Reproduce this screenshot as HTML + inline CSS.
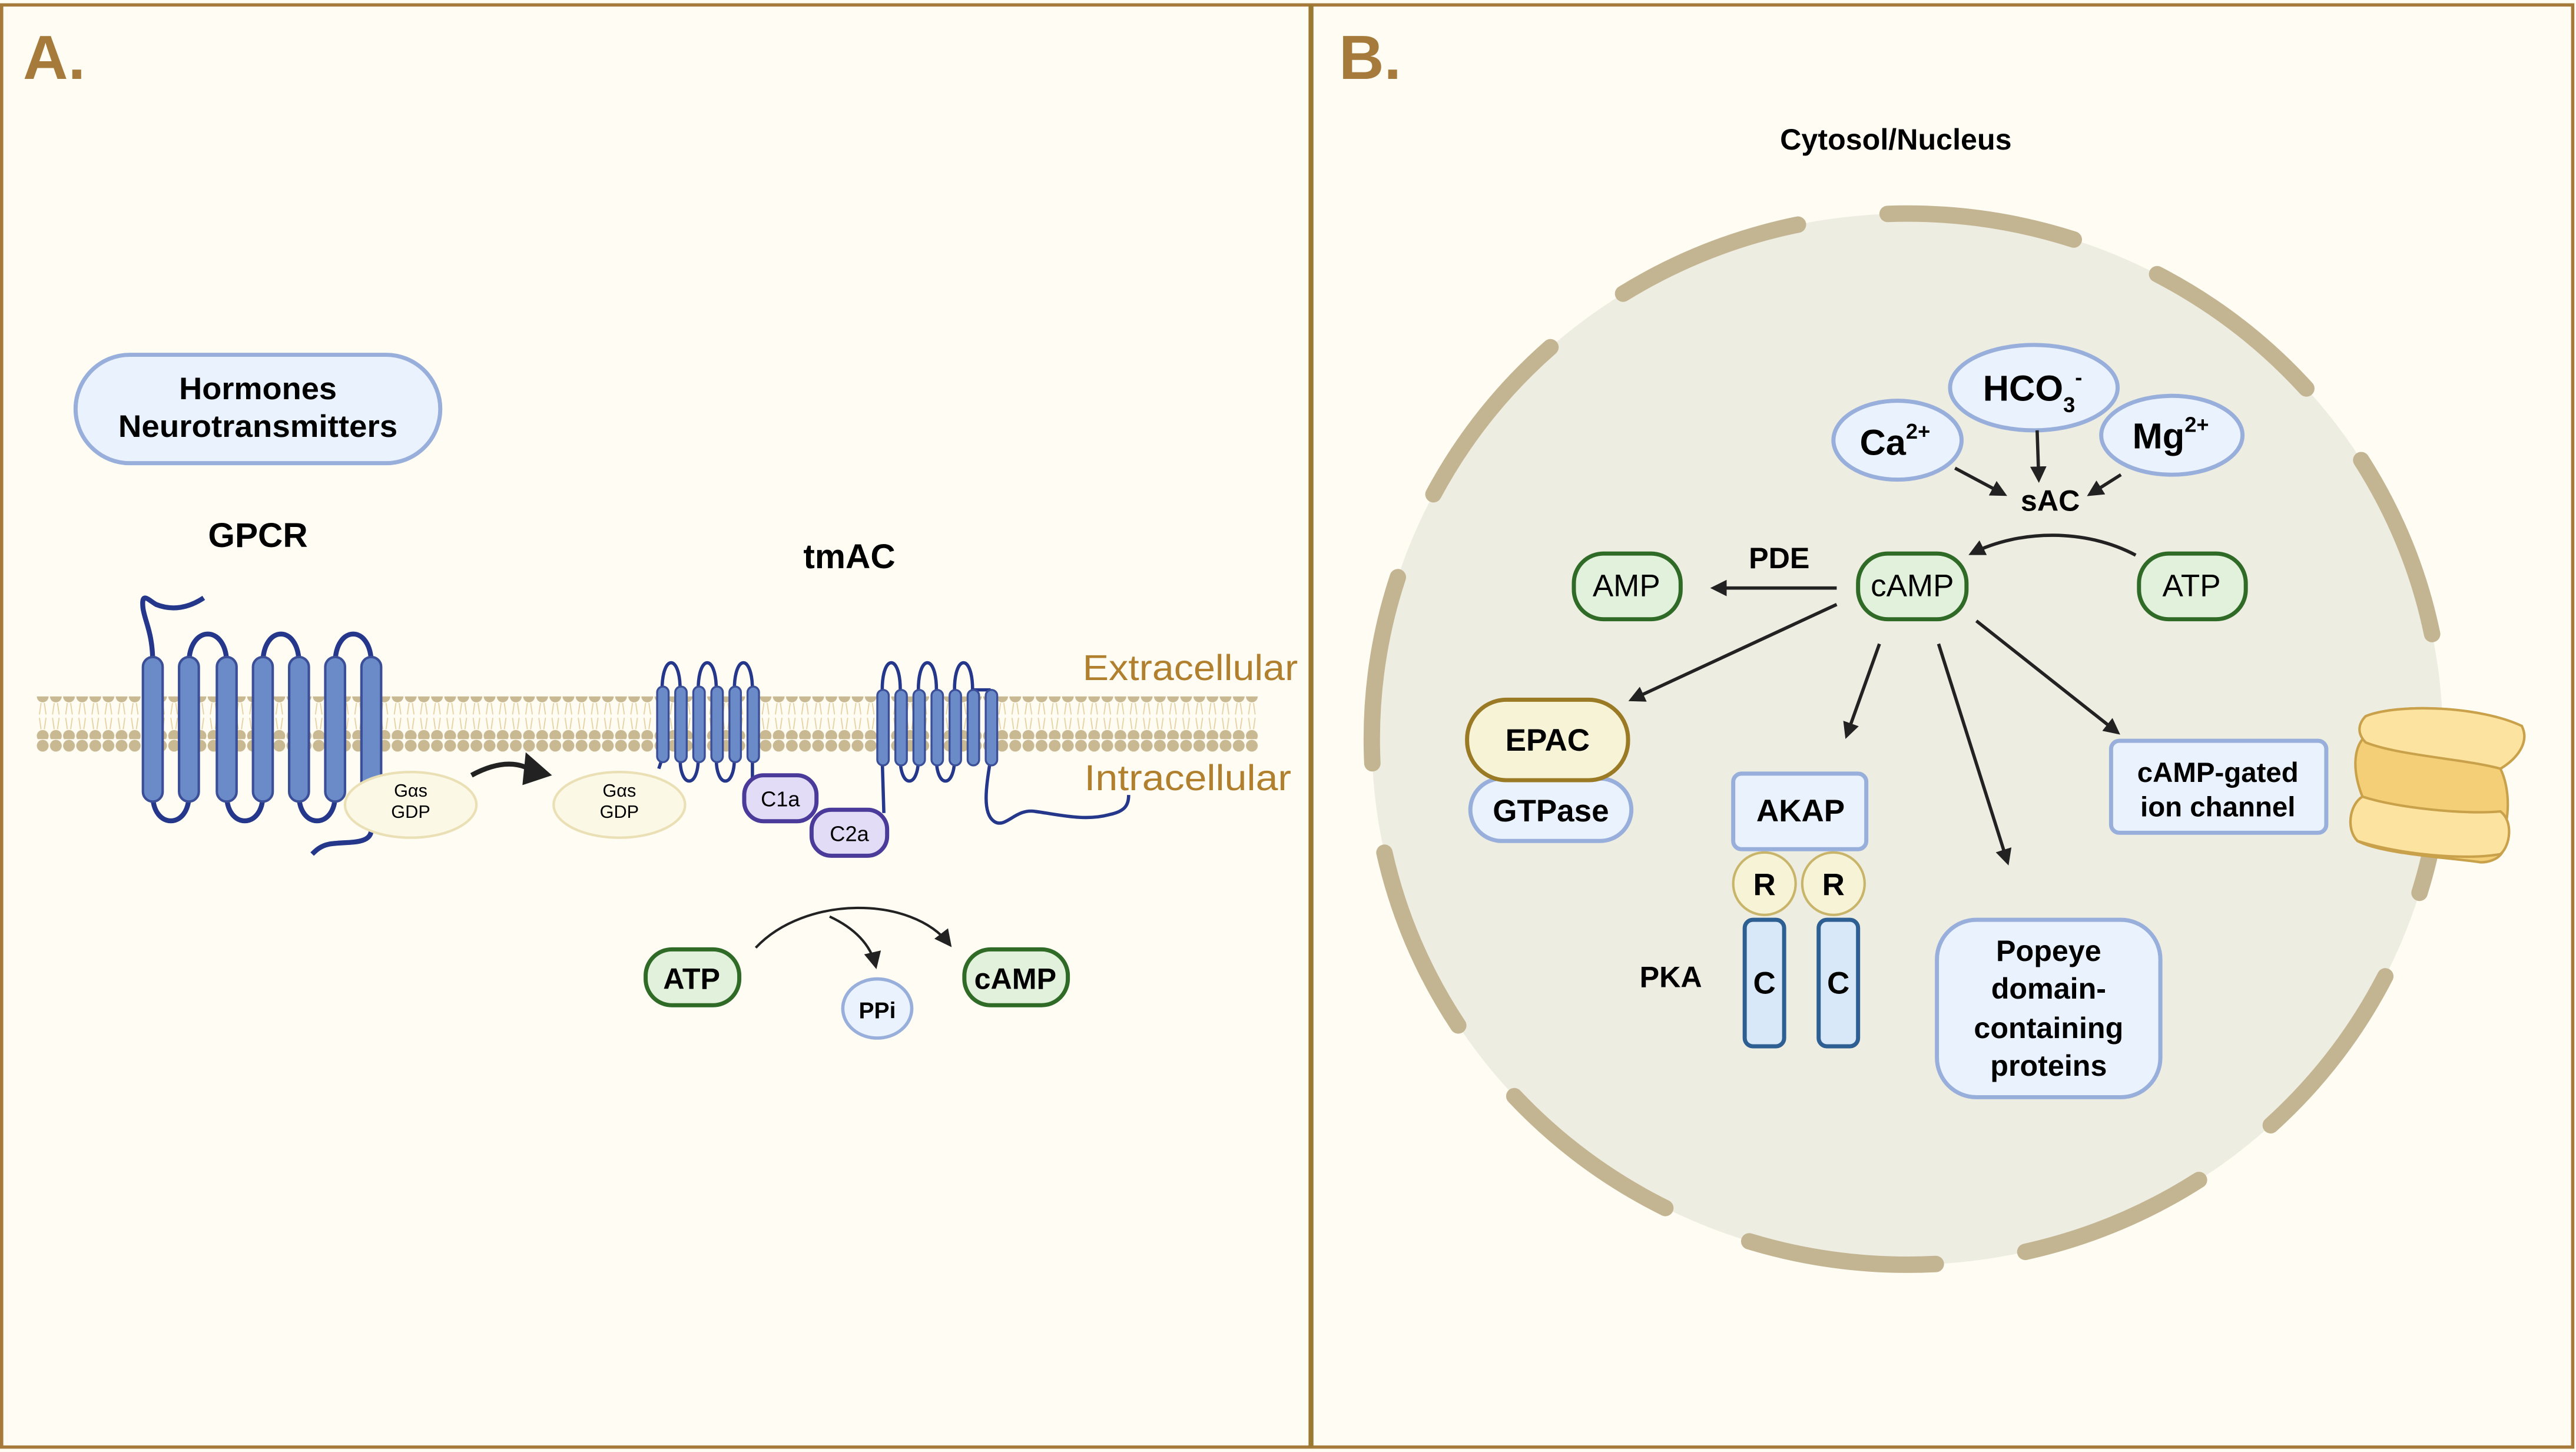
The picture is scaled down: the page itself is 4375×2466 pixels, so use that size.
<!DOCTYPE html>
<html><head><meta charset="utf-8"><style>
html,body{margin:0;padding:0;background:#fffdf3;}
svg{display:block;}
text{font-family:"Liberation Sans",sans-serif;}
</style></head><body>
<svg width="4375" height="2466" viewBox="0 0 1568 884" preserveAspectRatio="none" xmlns="http://www.w3.org/2000/svg">
<defs>
<pattern id="heads" x="22" y="0" width="8" height="30" patternUnits="userSpaceOnUse">
<circle cx="4" cy="4" r="3.6" fill="#c9b993"/>
<circle cx="4" cy="28" r="3.6" fill="#c9b993"/>
<path d="M3 8 L2 15 M5 8 L6 15 M3 24 L2 17 M5 24 L6 17" stroke="#e6d3a5" stroke-width="0.7"/>
</pattern>
<marker id="ah" viewBox="0 0 10 10" refX="8" refY="5" markerWidth="5" markerHeight="5" orient="auto"><path d="M0 0L10 5L0 10z" fill="#222"/></marker>
<marker id="ah2" viewBox="0 0 10 10" refX="8" refY="5" markerWidth="7" markerHeight="7" orient="auto"><path d="M0 0L10 5L0 10z" fill="#222"/></marker>
</defs>
<rect x="0" y="0" width="1568" height="884" fill="#fffdf3"/>
<rect x="1" y="3" width="1565" height="878" fill="none" stroke="#a57a3a" stroke-width="2"/>
<line x1="798" y1="3" x2="798" y2="881" stroke="#9a7a32" stroke-width="3"/>
<text x="14" y="48" font-size="38" font-weight="bold" fill="#a57a3a">A.</text>
<text x="815" y="48" font-size="38" font-weight="bold" fill="#a57a3a">B.</text>

<!-- Panel A -->
<rect x="46" y="216" width="222" height="66" rx="33" fill="#eaf2fd" stroke="#98aedb" stroke-width="2.5"/>
<text x="157" y="243" font-size="19" font-weight="bold" text-anchor="middle" textLength="96" lengthAdjust="spacingAndGlyphs">Hormones</text>
<text x="157" y="266" font-size="19" font-weight="bold" text-anchor="middle" textLength="170" lengthAdjust="spacingAndGlyphs">Neurotransmitters</text>
<text x="157" y="333" font-size="21" font-weight="bold" text-anchor="middle">GPCR</text>
<text x="517" y="346" font-size="21" font-weight="bold" text-anchor="middle">tmAC</text>
<text x="659" y="414" font-size="22" fill="#b0802f" textLength="131" lengthAdjust="spacingAndGlyphs">Extracellular</text>
<text x="660" y="481" font-size="22" fill="#b0802f" textLength="126" lengthAdjust="spacingAndGlyphs">Intracellular</text>

<rect x="22" y="424" width="744" height="34" fill="url(#heads)"/>

<!-- GPCR -->
<g fill="none" stroke="#25378a" stroke-width="3">
<path d="M93 404 C93 385 88 378 87 370 C86 360 90 365 95 368 C105 372 115 370 124 364"/>
<path d="M115 404 C115 380 138 380 138 404"/>
<path d="M160 404 C160 380 182 380 182 404"/>
<path d="M204 404 C204 380 226 380 226 404"/>
<path d="M93 484 C93 505 115 505 115 484"/>
<path d="M138 484 C138 505 160 505 160 484"/>
<path d="M182 484 C182 505 204 505 204 484"/>
<path d="M226 484 L226 505 C226 515 210 512 200 514 C195 515 192 518 190 520"/>
</g>
<g fill="#6a8bc8" stroke="#3b4f98" stroke-width="1.5">
<rect x="87" y="400" width="12" height="88" rx="6"/>
<rect x="109" y="400" width="12" height="88" rx="6"/>
<rect x="132" y="400" width="12" height="88" rx="6"/>
<rect x="154" y="400" width="12" height="88" rx="6"/>
<rect x="176" y="400" width="12" height="88" rx="6"/>
<rect x="198" y="400" width="12" height="88" rx="6"/>
<rect x="220" y="400" width="12" height="88" rx="6"/>
</g>
<ellipse cx="250" cy="490" rx="40" ry="20" fill="#fbf8e6" stroke="#eadfb5" stroke-width="1.5"/>
<text x="250" y="485" font-size="11" text-anchor="middle">Gαs</text>
<text x="250" y="498" font-size="11" text-anchor="middle">GDP</text>
<path d="M287 472 C300 465 312 463 322 468" fill="none" stroke="#222" stroke-width="3"/>
<path d="M320 458 L336 472 L318 478 z" fill="#222"/>
<ellipse cx="377" cy="490" rx="40" ry="20" fill="#fbf8e6" stroke="#eadfb5" stroke-width="1.5"/>
<text x="377" y="485" font-size="11" text-anchor="middle">Gαs</text>
<text x="377" y="498" font-size="11" text-anchor="middle">GDP</text>

<!-- tmAC -->
<g fill="none" stroke="#25378a" stroke-width="2">
<path d="M403 420 C403 398 414 398 414 420"/>
<path d="M425 420 C425 398 436 398 436 420"/>
<path d="M447 420 C447 398 458 398 458 420"/>
<path d="M414 462 C414 480 425 480 425 462"/>
<path d="M436 462 C436 480 447 480 447 462"/>
<path d="M403 462 L401 468"/>
<path d="M458 462 L458 475"/>
<path d="M537 420 C537 398 548 398 548 420"/>
<path d="M559 420 C559 398 570 398 570 420"/>
<path d="M581 420 C581 398 592 398 592 420"/>
<path d="M548 462 C548 480 559 480 559 462"/>
<path d="M570 462 C570 480 581 480 581 462"/>
<path d="M537 462 L538 495"/>
<path d="M603 462 C600 480 598 495 605 500 C612 505 618 492 630 494 C645 496 660 500 675 496 C685 494 687 490 687 484"/>
<path d="M592 420 L603 420"/>
</g>
<g fill="#6a8bc8" stroke="#3b4f98" stroke-width="1.2">
<rect x="400" y="418" width="7" height="46" rx="3.5"/>
<rect x="411" y="418" width="7" height="46" rx="3.5"/>
<rect x="422" y="418" width="7" height="46" rx="3.5"/>
<rect x="433" y="418" width="7" height="46" rx="3.5"/>
<rect x="444" y="418" width="7" height="46" rx="3.5"/>
<rect x="455" y="418" width="7" height="46" rx="3.5"/>
<rect x="534" y="420" width="7" height="46" rx="3.5"/>
<rect x="545" y="420" width="7" height="46" rx="3.5"/>
<rect x="556" y="420" width="7" height="46" rx="3.5"/>
<rect x="567" y="420" width="7" height="46" rx="3.5"/>
<rect x="578" y="420" width="7" height="46" rx="3.5"/>
<rect x="589" y="420" width="7" height="46" rx="3.5"/>
<rect x="600" y="420" width="7" height="46" rx="3.5"/>
</g>
<rect x="453" y="472" width="44" height="28" rx="12" fill="#e3dcf6" stroke="#4a3a9a" stroke-width="2.5"/>
<text x="475" y="491" font-size="13" text-anchor="middle">C1a</text>
<rect x="494" y="493" width="46" height="28" rx="12" fill="#e3dcf6" stroke="#4a3a9a" stroke-width="2.5"/>
<text x="517" y="512" font-size="13" text-anchor="middle">C2a</text>

<rect x="393" y="578" width="57" height="34" rx="16" fill="#e2f1dc" stroke="#2f6a26" stroke-width="2.5"/>
<text x="421" y="602" font-size="18" font-weight="bold" text-anchor="middle">ATP</text>
<rect x="587" y="578" width="63" height="34" rx="16" fill="#e2f1dc" stroke="#2f6a26" stroke-width="2.5"/>
<text x="618" y="602" font-size="18" font-weight="bold" text-anchor="middle">cAMP</text>
<ellipse cx="534" cy="614" rx="21" ry="18" fill="#eaf2fd" stroke="#98aedb" stroke-width="2"/>
<text x="534" y="620" font-size="14" font-weight="bold" text-anchor="middle">PPi</text>
<path d="M460 577 C490 545 555 545 578 575" fill="none" stroke="#222" stroke-width="1.5" marker-end="url(#ah2)"/>
<path d="M505 558 C520 565 530 575 533 588" fill="none" stroke="#222" stroke-width="1.5" marker-end="url(#ah2)"/>

<!-- Panel B -->
<text x="1154" y="91" font-size="18" font-weight="bold" text-anchor="middle">Cytosol/Nucleus</text>
<ellipse cx="1161" cy="450" rx="326" ry="320" fill="#eeede2"/>
<ellipse cx="1161" cy="450" rx="326" ry="320" fill="none" stroke="#c4b592" stroke-width="10" stroke-linecap="round" stroke-dasharray="115 55" stroke-dashoffset="20"/>

<!-- ion channel -->
<path d="M1440 436 C1460 428 1510 430 1535 442 C1540 452 1532 462 1522 468 C1528 480 1528 500 1522 510 C1528 518 1520 525 1510 525 C1490 522 1450 520 1435 512 C1428 505 1430 490 1438 485 C1432 470 1432 455 1440 448 C1436 444 1436 440 1440 436 z" fill="#f4cf78" stroke="#c9a14b" stroke-width="1.5"/>
<path d="M1440 436 C1460 428 1510 430 1535 442 C1540 452 1532 462 1522 468 C1500 462 1460 460 1440 452 C1434 446 1436 440 1440 436 z" fill="#fde3a0" stroke="#c9a14b" stroke-width="1.5"/>
<path d="M1438 485 C1460 492 1500 496 1522 494 C1530 500 1528 515 1522 520 C1500 524 1460 520 1435 512 C1428 505 1430 490 1438 485 z" fill="#fde3a0" stroke="#c9a14b" stroke-width="1.5"/>

<g fill="#eaf2fd" stroke="#98aedb" stroke-width="2.5">
<ellipse cx="1155" cy="268" rx="39" ry="24"/>
<ellipse cx="1238" cy="236" rx="51" ry="26"/>
<ellipse cx="1322" cy="265" rx="43" ry="24"/>
</g>
<text x="1132" y="277" font-size="22" font-weight="bold">Ca<tspan font-size="13" dy="-10">2+</tspan></text>
<text x="1207" y="244" font-size="22" font-weight="bold">HCO<tspan font-size="13" dy="7">3</tspan><tspan font-size="13" dy="-17">-</tspan></text>
<text x="1298" y="273" font-size="22" font-weight="bold">Mg<tspan font-size="13" dy="-10">2+</tspan></text>
<text x="1248" y="311" font-size="18" font-weight="bold" text-anchor="middle">sAC</text>
<g stroke="#222" stroke-width="2" fill="none" marker-end="url(#ah)">
<line x1="1190" y1="285" x2="1220" y2="301"/>
<line x1="1240" y1="262" x2="1241" y2="292"/>
<line x1="1291" y1="289" x2="1272" y2="301"/>
<path d="M1300 338 C1270 322 1230 322 1200 337"/>
<line x1="1118" y1="358" x2="1043" y2="358"/>
<line x1="1118" y1="368" x2="993" y2="426"/>
<line x1="1144" y1="392" x2="1124" y2="448"/>
<line x1="1180" y1="392" x2="1222" y2="525"/>
<line x1="1203" y1="378" x2="1289" y2="446"/>
</g>
<text x="1083" y="346" font-size="18" font-weight="bold" text-anchor="middle">PDE</text>
<g fill="#e2f1dc" stroke="#2f6a26" stroke-width="2.5">
<rect x="958" y="337" width="65" height="40" rx="18"/>
<rect x="1131" y="337" width="66" height="40" rx="18"/>
<rect x="1302" y="337" width="65" height="40" rx="18"/>
</g>
<text x="990" y="363" font-size="19" text-anchor="middle">AMP</text>
<text x="1164" y="363" font-size="19" text-anchor="middle">cAMP</text>
<text x="1334" y="363" font-size="19" text-anchor="middle">ATP</text>

<rect x="895" y="474" width="98" height="38" rx="19" fill="#eaf2fd" stroke="#98aedb" stroke-width="2.5"/>
<text x="944" y="500" font-size="19" font-weight="bold" text-anchor="middle">GTPase</text>
<rect x="893" y="426" width="98" height="49" rx="24" fill="#f6f3d7" stroke="#9a7a24" stroke-width="2.5"/>
<text x="942" y="457" font-size="19" font-weight="bold" text-anchor="middle">EPAC</text>

<rect x="1055" y="471" width="81" height="46" rx="5" fill="#eaf2fd" stroke="#98aedb" stroke-width="2.5"/>
<text x="1096" y="500" font-size="19" font-weight="bold" text-anchor="middle">AKAP</text>
<g fill="#f6f3d7" stroke="#c9b56a" stroke-width="1.5">
<circle cx="1074" cy="538" r="19"/><circle cx="1116" cy="538" r="19"/>
</g>
<text x="1074" y="545" font-size="19" font-weight="bold" text-anchor="middle">R</text>
<text x="1116" y="545" font-size="19" font-weight="bold" text-anchor="middle">R</text>
<g fill="#d9e8f8" stroke="#2e5f93" stroke-width="2.5">
<rect x="1062" y="560" width="24" height="77" rx="5"/>
<rect x="1107" y="560" width="24" height="77" rx="5"/>
</g>
<text x="1074" y="605" font-size="19" font-weight="bold" text-anchor="middle">C</text>
<text x="1119" y="605" font-size="19" font-weight="bold" text-anchor="middle">C</text>
<text x="1017" y="601" font-size="18" font-weight="bold" text-anchor="middle">PKA</text>

<rect x="1179" y="560" width="136" height="108" rx="24" fill="#eaf2fd" stroke="#98aedb" stroke-width="2.5"/>
<g font-size="18" font-weight="bold" text-anchor="middle">
<text x="1247" y="585">Popeye</text>
<text x="1247" y="608">domain-</text>
<text x="1247" y="632">containing</text>
<text x="1247" y="655">proteins</text>
</g>
<rect x="1285" y="451" width="131" height="56" rx="5" fill="#eaf2fd" stroke="#98aedb" stroke-width="2.5"/>
<text x="1350" y="476" font-size="17" font-weight="bold" text-anchor="middle">cAMP-gated</text>
<text x="1350" y="497" font-size="17" font-weight="bold" text-anchor="middle">ion channel</text>
</svg>
</body></html>
